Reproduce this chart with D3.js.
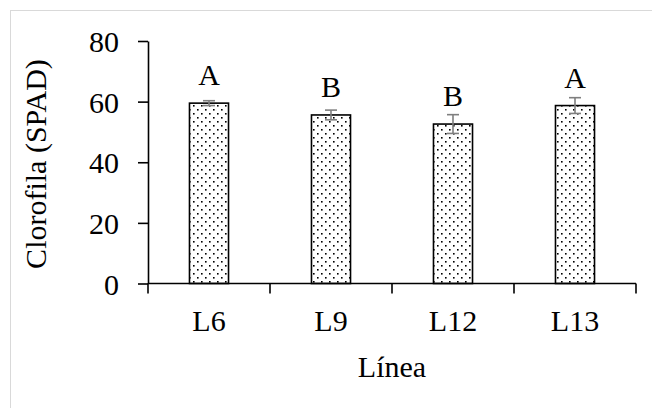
<!DOCTYPE html>
<html>
<head>
<meta charset="utf-8">
<script src="https://cdn.jsdelivr.net/npm/d3@7"></script>
<style>
  html, body { margin: 0; padding: 0; background: #fff; }
  svg { display: block; }
  svg text { font-family: "Liberation Serif", "Times New Roman", "DejaVu Serif", serif !important; fill: #000; }
</style>
</head>
<body>
<script>
const categories = ["L6", "L9", "L12", "L13"];
const means = [59.5, 55.6, 52.6, 58.7];
const errors = [0.8, 1.6, 3.1, 2.6];
const letters = ["A", "B", "B", "A"];
const yTicks = [0, 20, 40, 60, 80];
const xTitle = "Línea";
const yTitle = "Clorofila (SPAD)";

const FONT = "'Liberation Serif', 'Times New Roman', serif";
const FS = "30px";
const W = 652, H = 408;
const svg = d3.select("body").append("svg").attr("width", W).attr("height", H)
  .attr("font-family", FONT);

// chart area border
svg.append("rect").attr("x", 10.5).attr("y", 10.5).attr("width", 700).attr("height", 500)
  .attr("fill", "#fff").attr("stroke", "#d9d9d9").attr("stroke-width", 1);

const defs = svg.append("defs");
const pat = defs.append("pattern").attr("id", "dots").attr("patternUnits", "userSpaceOnUse")
  .attr("width", 8).attr("height", 8);
pat.append("rect").attr("width", 8).attr("height", 8).attr("fill", "#fff");
pat.append("rect").attr("x", 1).attr("y", 1).attr("width", 1.6).attr("height", 1.6).attr("fill", "#000");
pat.append("rect").attr("x", 5).attr("y", 5).attr("width", 1.6).attr("height", 1.6).attr("fill", "#000");

const x = d3.scaleBand().domain(categories).range([148, 636]).padding(0);
const y = d3.scaleLinear().domain([0, 80]).range([283.5, 41]);
const bw = x.bandwidth() * 0.32;

// bars
svg.append("g").selectAll("rect").data(categories).join("rect")
  .attr("x", d => x(d) + (x.bandwidth() - bw) / 2)
  .attr("y", (d, i) => y(means[i]))
  .attr("width", bw)
  .attr("height", (d, i) => y(0) - y(means[i]))
  .attr("fill", "url(#dots)")
  .attr("stroke", "#000").attr("stroke-width", 1.6);

// error bars
const eg = svg.append("g").attr("stroke", "#7f7f7f").attr("stroke-width", 1.6);
categories.forEach((c, i) => {
  const cx = x(c) + x.bandwidth() / 2;
  const top = y(means[i] + errors[i]), bot = y(means[i] - errors[i]);
  eg.append("line").attr("x1", cx).attr("x2", cx).attr("y1", top).attr("y2", bot);
  eg.append("line").attr("x1", cx - 6).attr("x2", cx + 6).attr("y1", top).attr("y2", top);
  eg.append("line").attr("x1", cx - 6).attr("x2", cx + 6).attr("y1", bot).attr("y2", bot);
});

// letters
svg.append("g").selectAll("text").data(categories).join("text")
  .attr("x", d => x(d) + x.bandwidth() / 2)
  .attr("y", (d, i) => y(means[i]) - 18)
  .attr("text-anchor", "middle")
  .attr("font-family", FONT).style("font-size", FS)
  .text((d, i) => letters[i]);

// y axis
const yAxis = svg.append("g").attr("transform", "translate(148,0)")
  .call(d3.axisLeft(y).tickValues(yTicks).tickSize(10).tickPadding(19).tickSizeOuter(0));
yAxis.attr("font-family", FONT).attr("font-size", 30);
yAxis.select(".domain").attr("stroke", "#000").attr("stroke-width", 1.6);
yAxis.selectAll(".tick line").attr("stroke", "#000").attr("stroke-width", 1.6);
yAxis.selectAll(".tick text").style("font-size", FS).attr("font-family", FONT).attr("dy", "0.35em");

// x axis
const xAxisG = svg.append("g").attr("transform", `translate(0,${y(0)})`);
xAxisG.append("line").attr("x1", 148).attr("x2", 636).attr("y1", 0).attr("y2", 0)
  .attr("stroke", "#000").attr("stroke-width", 1.6);
const bounds = categories.map(c => x(c)).concat([x(categories[categories.length - 1]) + x.bandwidth()]);
xAxisG.selectAll("line.tk").data(bounds).join("line").attr("class", "tk")
  .attr("x1", d => d).attr("x2", d => d).attr("y1", 0).attr("y2", 10)
  .attr("stroke", "#000").attr("stroke-width", 1.6);
xAxisG.selectAll("text").data(categories).join("text")
  .attr("x", d => x(d) + x.bandwidth() / 2)
  .attr("y", 47)
  .attr("text-anchor", "middle")
  .attr("font-family", FONT).style("font-size", FS)
  .text(d => d);

// titles
svg.append("text").attr("x", 392).attr("y", 377).attr("text-anchor", "middle")
  .attr("font-family", FONT).style("font-size", FS).text(xTitle);
svg.append("text").attr("transform", "translate(46,164) rotate(-90)")
  .attr("text-anchor", "middle").attr("font-family", FONT).style("font-size", FS).text(yTitle);
</script>
</body>
</html>
